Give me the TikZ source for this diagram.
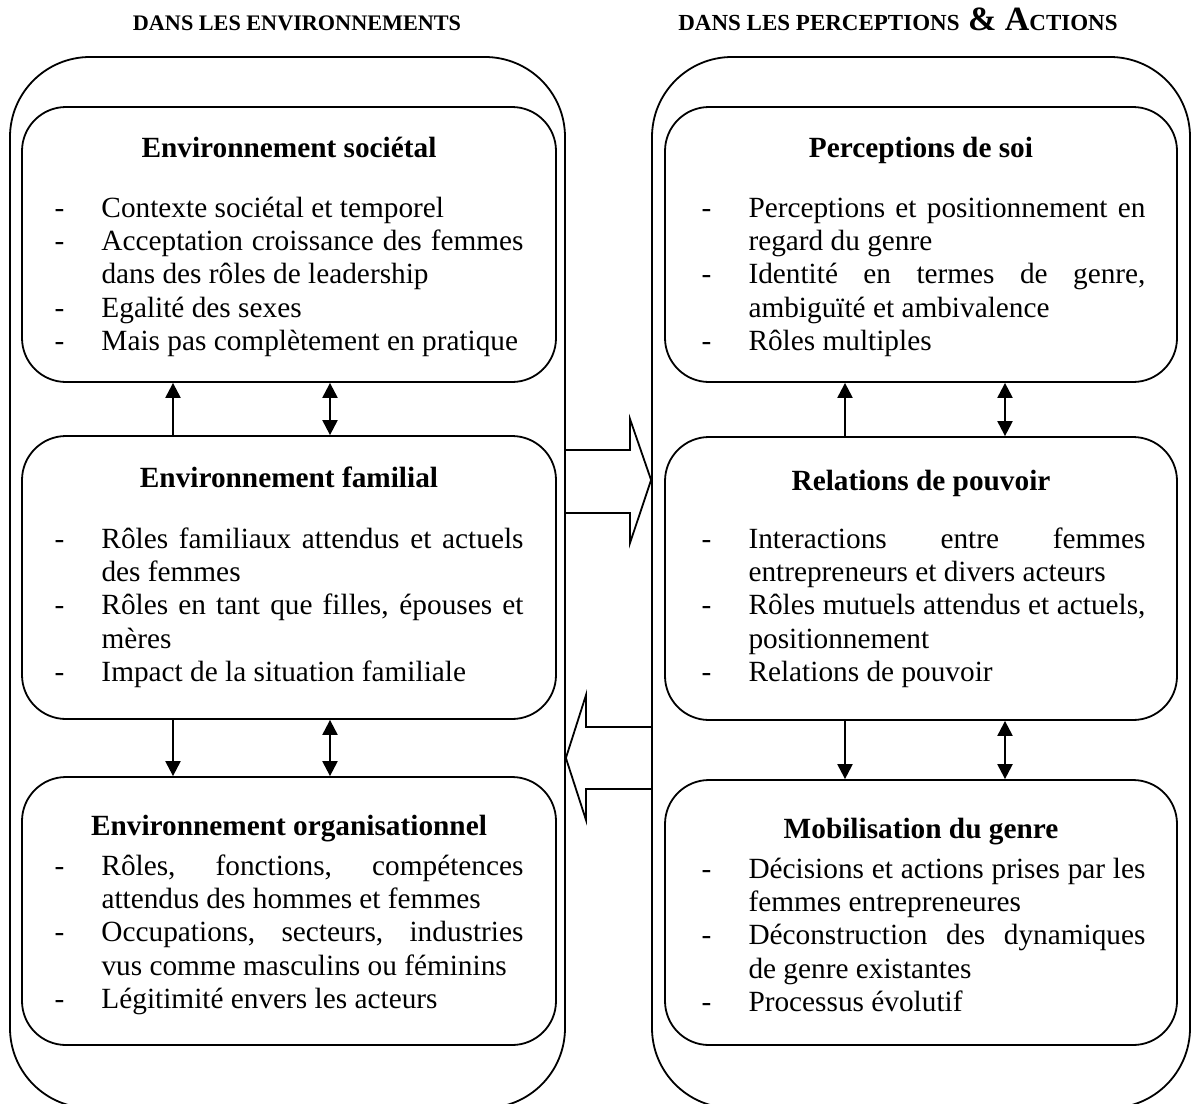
\documentclass[tikz,border=0pt]{standalone}
\usepackage{fontspec}
\setmainfont{Liberation Serif}
\usetikzlibrary{positioning,arrows.meta}
\hyphenpenalty=10000
\hbadness=10000

\newcommand{\itm}[1]{\noindent\hangindent=23.5pt\hangafter=1\makebox[23.5pt][l]{-}#1\par}

\begin{document}
\begin{tikzpicture}[x=0.5pt, y=-0.5pt,
	every node/.style={inner sep=0pt, font=\fontsize{14.65pt}{16.65pt}\selectfont},
	outer/.style={draw, line width=0.9pt, rounded corners=40pt, minimum height=525.5pt},
	box/.style={draw, line width=0.9pt, rounded corners=22pt},
	hdr/.style={anchor=base, font=\fontsize{11.1pt}{13pt}\selectfont\bfseries},
	big/.style={font=\fontsize{17pt}{19pt}\selectfont\bfseries},
	ttl/.style={anchor=base, font=\fontsize{14.65pt}{16.65pt}\selectfont\bfseries},
	lst/.style={anchor=base west, align=justify, text width=#1},
	arr/.style={line width=1.1pt, -{Triangle[length=7.5pt, width=7.5pt]}},
	arrs/.style={line width=1.1pt, {Triangle[length=7.5pt, width=7.5pt]}-{Triangle[length=7.5pt, width=7.5pt]}},
	hollow/.style={line width=0.9pt, line join=miter}]
	\useasboundingbox (0,0) rectangle (1192,1103);
	\node[hdr] (hEnv) at (297,30) {DANS LES ENVIRONNEMENTS};
	\node[hdr, font=\fontsize{11.5pt}{13pt}\selectfont\bfseries] (hPerc) at (898,30) {DANS LES PERCEPTIONS{\fontsize{17pt}{19pt}\selectfont\ \&\ A}CTIONS};
	\node[outer, minimum width=277.5pt] (envOut) at (287.5,582.5) {};
	\node[outer, minimum width=269pt] (percOut) at (921,582.5) {};
	\node[box, minimum width=267pt, minimum height=137.5pt] (societal) at (289,244.5) {};
	\node[box, minimum width=267pt, minimum height=141.5pt] (familial) at (289,577.5) {};
	\node[box, minimum width=267pt, minimum height=134pt] (organis) at (289,911) {};
	\node[box, minimum width=256pt, minimum height=137.5pt] (soi) at (921,244.5) {};
	\node[box, minimum width=256pt, minimum height=141.5pt] (pouvoir) at (921,578.5) {};
	\node[box, minimum width=256pt, minimum height=132.5pt] (mobil) at (921,912.5) {};
	\node[ttl] (tSocietal) at ([yshift=-25.5pt]societal.north) {Environnement sociétal};
	\node[ttl] (tFamilial) at ([yshift=-26pt]familial.north) {Environnement familial};
	\node[ttl] (tOrganis) at ([yshift=-29.5pt]organis.north) {Environnement organisationnel};
	\node[ttl] (tSoi) at ([yshift=-25.5pt]soi.north) {Perceptions de soi};
	\node[ttl] (tPouvoir) at ([yshift=-27pt]pouvoir.north) {Relations de pouvoir};
	\node[ttl] (tMobil) at ([yshift=-29.5pt]mobil.north) {Mobilisation du genre};
	\node[lst=234.5pt] (lSocietal) at ([xshift=16.5pt, yshift=-55.5pt]societal.north west) {%
		\itm{Contexte sociétal et temporel}
		\itm{Acceptation croissance des femmes\linebreak dans des rôles de leadership}
		\itm{Egalité des sexes}
		\itm{Mais pas complètement en pratique}};
	\node[lst=234.5pt] (lFamilial) at ([xshift=16.5pt, yshift=-56.5pt]familial.north west) {%
		\itm{Rôles familiaux attendus et actuels\linebreak des femmes}
		\itm{Rôles en tant que filles, épouses et\linebreak mères}
		\itm{Impact de la situation familiale}};
	\node[lst=234.5pt] (lOrganis) at ([xshift=16.5pt, yshift=-49.5pt]organis.north west) {%
		\itm{Rôles, fonctions, compétences\linebreak attendus des hommes et femmes}
		\itm{Occupations, secteurs, industries\linebreak vus comme masculins ou féminins}
		\itm{Légitimité envers les acteurs}};
	\node[lst=222pt] (lSoi) at ([xshift=18.5pt, yshift=-55.5pt]soi.north west) {%
		\itm{Perceptions et positionnement en\linebreak regard du genre}
		\itm{Identité en termes de genre,\linebreak ambiguïté et ambivalence}
		\itm{Rôles multiples}};
	\node[lst=222pt] (lPouvoir) at ([xshift=18.5pt, yshift=-56pt]pouvoir.north west) {%
		\itm{Interactions entre femmes\linebreak entrepreneurs et divers acteurs}
		\itm{Rôles mutuels attendus et actuels,\linebreak positionnement}
		\itm{Relations de pouvoir}};
	\node[lst=222pt] (lMobil) at ([xshift=18.5pt, yshift=-49.5pt]mobil.north west) {%
		\itm{Décisions et actions prises par les\linebreak femmes entrepreneures}
		\itm{Déconstruction des dynamiques\linebreak de genre existantes}
		\itm{Processus évolutif}};
	\draw[arr] (familial.north -| 173,0) -- (societal.south -| 173,0);
	\draw[arrs] (societal.south -| 330,0) -- (familial.north -| 330,0);
	\draw[arr] (familial.south -| 173,0) -- (organis.north -| 173,0);
	\draw[arrs] (familial.south -| 330,0) -- (organis.north -| 330,0);
	\draw[arr] (pouvoir.north -| 845,0) -- (soi.south -| 845,0);
	\draw[arrs] (soi.south -| 1005,0) -- (pouvoir.north -| 1005,0);
	\draw[arr] (pouvoir.south -| 845,0) -- (mobil.north -| 845,0);
	\draw[arrs] (pouvoir.south -| 1005,0) -- (mobil.north -| 1005,0);
	\draw[hollow] (envOut.east |- 0,450) -- (630,450) -- (630,419) -- (percOut.west |- 0,480) -- (630,543) -- (630,513) -- (envOut.east |- 0,513);
	\draw[hollow] (percOut.west |- 0,727) -- (586,727) -- (586,695) -- (envOut.east |- 0,758) -- (586,820) -- (586,789) -- (percOut.west |- 0,789);
\end{tikzpicture}
\end{document}
